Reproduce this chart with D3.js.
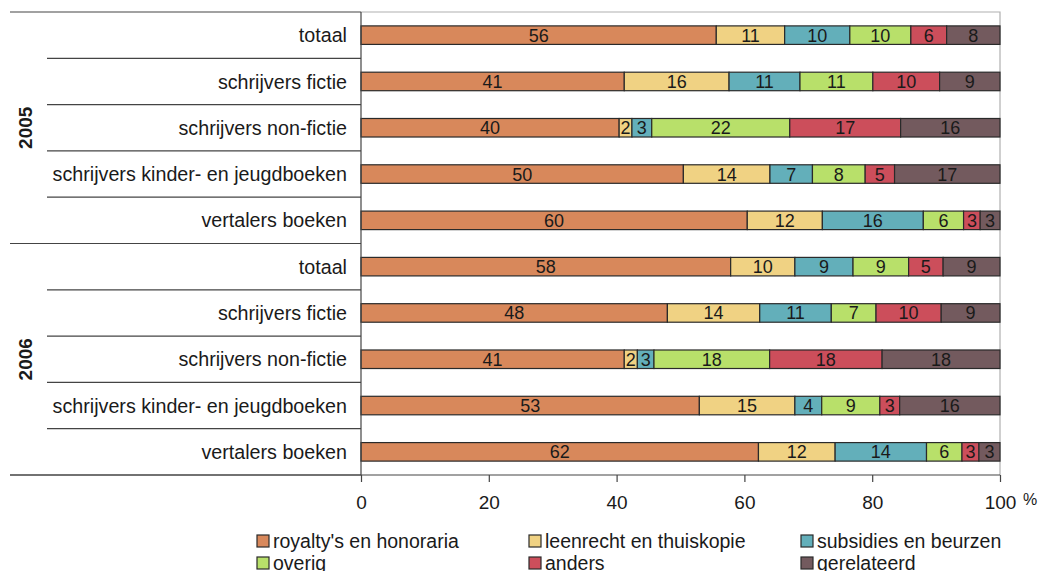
<!DOCTYPE html>
<html>
<head>
<meta charset="utf-8">
<script src="https://cdn.jsdelivr.net/npm/d3@7"></script>
<style>
body{margin:0;background:#fff;}
text{font-family:"Liberation Sans",Arial,sans-serif;fill:#1a1a1a;}
</style>
</head>
<body>
<div id="chart"></div>
<script>
var w=1043;
var h=571;

// rows, top to bottom
var years=["2005","2006"];
var categories=["totaal","schrijvers fictie","schrijvers non-fictie","schrijvers kinder- en jeugdboeken","vertalers boeken"];
var seriesNames=["royalty's en honoraria","leenrecht en thuiskopie","subsidies en beurzen","overig","anders","gerelateerd"];
var colors=["#d8885b","#f0d283","#63afba","#b8e06a","#cc4e5b","#735a5e"];

// percentages per row (2005: 5 rows, 2006: 5 rows)
var royalty=[55.6,41.2,40.4,50.45,60.45,57.85,47.95,41.2,52.95,62.2];
var leenrecht=[10.7,16.4,2.0,13.55,11.75,10.05,14.45,2.05,14.95,12.0];
var subsidies=[10.2,11.1,3.1,6.65,15.8,9.1,11.2,2.6,4.2,14.3];
var overig=[9.55,11.4,21.6,8.25,6.3,8.7,7.0,18.1,9.1,5.55];
var anders=[5.6,10.45,17.35,4.6,2.6,5.4,10.2,17.6,3.1,2.65];
var gerelateerd=[8.35,9.45,15.55,16.5,3.1,8.9,9.2,18.45,15.7,3.3];

var xTicks=[0,20,40,60,80,100];

var seriesValues=[royalty,leenrecht,subsidies,overig,anders,gerelateerd];
var rows=[];
years.forEach(function(yr,yi){
  categories.forEach(function(c,ci){
    var i=yi*categories.length+ci;
    var r={id:i,year:yr,cat:c};
    seriesNames.forEach(function(s,si){ r[s]=seriesValues[si][i]; });
    rows.push(r);
  });
});

var pLeft=361,pRight=1000,pTop=12,pBottom=475;

var svg=d3.select("#chart").append("svg")
          .attr("width",w)
          .attr("height",h);

var x=d3.scaleLinear().domain([0,100]).range([pLeft,pRight]);
var y=d3.scaleBand().domain(rows.map(function(d){return d.id;}))
        .range([pTop,pBottom]).paddingInner(0.6).paddingOuter(0.3);
var color=d3.scaleOrdinal().domain(seriesNames).range(colors);

// plot frame (light)
svg.append("path")
   .attr("d","M"+pLeft+","+pTop+"H"+pRight+"V"+pBottom)
   .attr("fill","none").attr("stroke","#b0b0b0").attr("stroke-width",1.2);

// category separators
var step=y.step();
d3.range(rows.length+1).forEach(function(k){
  var yy=pTop+k*step;
  var groupEdge=(k%categories.length===0);
  svg.append("line")
     .attr("x1",groupEdge?10:47).attr("x2",pLeft)
     .attr("y1",yy).attr("y2",yy)
     .attr("stroke","#444").attr("stroke-width",1.2);
});

// category labels
svg.append("g").selectAll("text")
   .data(rows).enter().append("text")
   .attr("x",347)
   .attr("y",function(d){return y(d.id)+y.bandwidth()/2;})
   .attr("dy","0.36em")
   .attr("text-anchor","end")
   .style("font-size","19.7px")
   .text(function(d){return d.cat;});

// year labels
years.forEach(function(yr,yi){
  var cy=pTop+(yi+0.5)*categories.length*step;
  svg.append("text")
     .attr("transform","translate(32,"+cy+") rotate(-90)")
     .attr("text-anchor","middle")
     .style("font-size","19px")
     .style("font-weight","bold")
     .text(yr);
});

// stacked bars
var stack=d3.stack().keys(seriesNames);
var layers=stack(rows);

var layer=svg.append("g").selectAll("g")
   .data(layers).enter().append("g")
   .attr("fill",function(d){return color(d.key);});

layer.selectAll("rect")
   .data(function(d){return d;}).enter().append("rect")
   .attr("x",function(d){return x(d[0]);})
   .attr("y",function(d){return y(d.data.id);})
   .attr("width",function(d){return x(d[1])-x(d[0]);})
   .attr("height",y.bandwidth())
   .attr("stroke","#2a2a2a")
   .attr("stroke-width",1.2);

layer.selectAll("text")
   .data(function(d){return d;}).enter().append("text")
   .attr("x",function(d){return (x(d[0])+x(d[1]))/2;})
   .attr("y",function(d){return y(d.data.id)+y.bandwidth()/2;})
   .attr("dy","0.36em")
   .attr("text-anchor","middle")
   .style("font-size","18px")
   .text(function(d){return Math.round(d[1]-d[0]);});

// y axis line
svg.append("line")
   .attr("x1",pLeft).attr("x2",pLeft).attr("y1",pTop).attr("y2",pBottom)
   .attr("stroke","#444").attr("stroke-width",1.2);

// x axis
var xAxis=svg.append("g")
   .attr("transform","translate(0,"+pBottom+")")
   .call(d3.axisBottom(x).tickValues(xTicks).tickSize(7).tickPadding(14));
xAxis.select(".domain").remove();
xAxis.selectAll("line").attr("stroke","#444").attr("stroke-width",1.2);
xAxis.selectAll("text").style("font-size","19px").attr("fill","#1a1a1a")
     .style("font-family","\"Liberation Sans\",Arial,sans-serif");
svg.append("line")
   .attr("x1",10).attr("x2",pRight).attr("y1",pBottom).attr("y2",pBottom)
   .attr("stroke","#444").attr("stroke-width",1.2);

svg.append("text")
   .attr("x",1023).attr("y",505)
   .style("font-size","16px")
   .text("%");

// legend
var legend=svg.append("g").selectAll("g")
   .data(seriesNames).enter().append("g")
   .attr("transform",function(d,i){
     return "translate("+(257+(i%3)*272)+","+(535+Math.floor(i/3)*22)+")";
   });
legend.append("rect")
   .attr("width",12).attr("height",12)
   .attr("fill",function(d){return color(d);})
   .attr("stroke","#2a2a2a").attr("stroke-width",1.2);
legend.append("text")
   .attr("x",16).attr("y",12.5)
   .style("font-size","19.5px")
   .text(function(d){return d;});
</script>
</body>
</html>
